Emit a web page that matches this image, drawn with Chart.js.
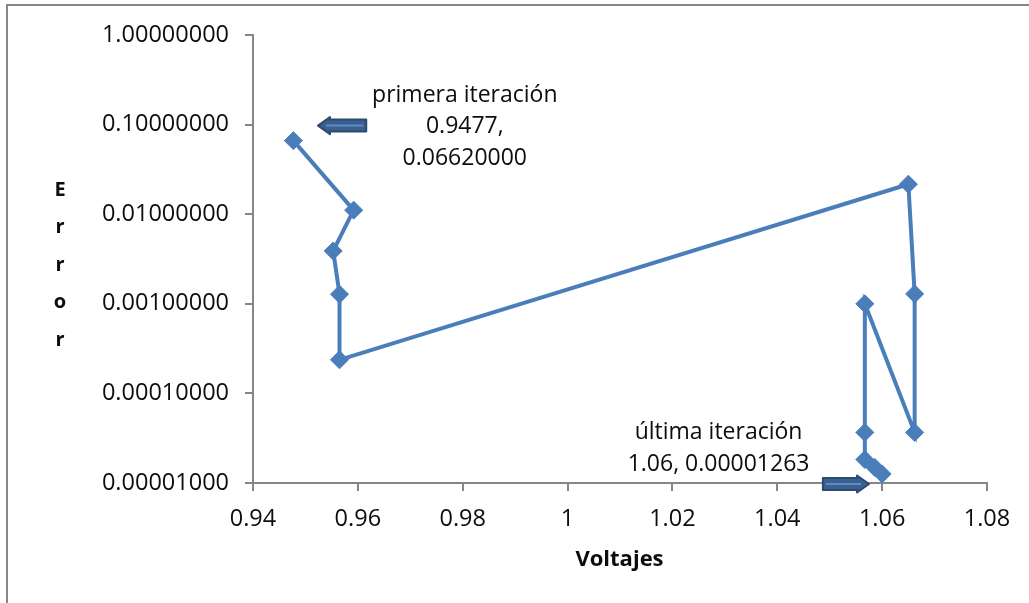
<!DOCTYPE html>
<html>
<head>
<meta charset="utf-8">
<script src="https://cdn.jsdelivr.net/npm/chart.js@4"></script>
<style>
  html, body { margin: 0; padding: 0; background: #fff; }
  #wrap { width: 1029px; height: 603px; position: relative; }
</style>
</head>
<body>
<div id="wrap"><canvas id="errorChart" width="1029" height="603"></canvas></div>
<script>
// datos (voltaje vs error por iteracion)
const voltajes = [0.9477, 0.9592, 0.9553, 0.9565, 0.9565, 1.0650, 1.0662, 1.0662, 1.0567, 1.0567, 1.0567, 1.0586, 1.0600];
const errores = [0.0662, 0.0111, 0.00389, 0.00128, 0.000237, 0.0216, 0.00129, 0.0000367, 0.00100, 0.0000367, 0.0000183, 0.0000149, 0.00001263];

// ticks de los ejes
const yTicks = [0.00001, 0.0001, 0.001, 0.01, 0.1, 1];
const xMin = 0.94, xMax = 1.08, xStep = 0.02;

const fontFam = '"Open Sans", sans-serif';
const axisGray = '#868686';
const lineBlue = '#4a7ebb';

// textos y flechas de anotacion (posicion en valores de datos)
const notas = [
    { x: 0.9804, y: 0.213, lines: ['primera iteración', '0.9477,', '0.06620000'] },
    { x: 1.0288, y: 0.0000365, lines: ['última iteración', '1.06, 0.00001263'] }
];
const flechas = [
    { from: 0.9616, to: 0.9524, y: 0.1 },   // apunta a la izquierda
    { from: 1.0487, to: 1.0575, y: 0.00001 } // apunta a la derecha
];

function drawArrow(ctx, x1, x2, y) {
    const dir = x2 > x1 ? 1 : -1;
    const shaft = 6, head = 8.5, headLen = 12;
    const hx = x2 - dir * headLen;
    ctx.save();
    ctx.beginPath();
    ctx.moveTo(x1, y - shaft);
    ctx.lineTo(hx, y - shaft);
    ctx.lineTo(hx, y - head);
    ctx.lineTo(x2, y);
    ctx.lineTo(hx, y + head);
    ctx.lineTo(hx, y + shaft);
    ctx.lineTo(x1, y + shaft);
    ctx.closePath();
    ctx.fillStyle = '#3b5f8f';
    ctx.fill();
    ctx.lineWidth = 2;
    ctx.lineJoin = 'round';
    ctx.strokeStyle = '#2d4a70';
    ctx.stroke();
    // brillo interior
    ctx.beginPath();
    ctx.moveTo(x1 + dir * 3, y);
    ctx.lineTo(hx + dir * 4, y);
    ctx.lineWidth = 2;
    ctx.strokeStyle = '#5d8cc8';
    ctx.stroke();
    ctx.restore();
}

const extrasPlugin = {
    id: 'extras',
    beforeDraw(chart) {
        const ctx = chart.ctx;
        ctx.save();
        ctx.fillStyle = '#fff';
        ctx.fillRect(0, 0, chart.width, chart.height);
        ctx.strokeStyle = axisGray;
        ctx.lineWidth = 2;
        ctx.strokeRect(7, 5, chart.width + 20, chart.height + 20);
        ctx.restore();
    },
    afterDraw(chart) {
        const ctx = chart.ctx;
        const xs = chart.scales.x, ys = chart.scales.y;
        ctx.save();
        ctx.fillStyle = '#0d0d0d';
        ctx.textAlign = 'center';
        ctx.textBaseline = 'middle';

        // titulo eje Y: letras apiladas
        ctx.font = 'bold 20px ' + fontFam;
        const letras = ['E', 'r', 'r', 'o', 'r'];
        letras.forEach((l, i) => ctx.fillText(l, 60, 190 + i * 37.5));

        // titulo eje X
        ctx.font = 'bold 22px ' + fontFam;
        ctx.fillText('Voltajes', (xs.left + xs.right) / 2 - 0.5, 560);

        // anotaciones
        ctx.font = '23px ' + fontFam;
        notas.forEach(n => {
            const px = xs.getPixelForValue(n.x);
            const py = ys.getPixelForValue(n.y);
            n.lines.forEach((t, i) => ctx.fillText(t, px, py + i * 31.5));
        });
        flechas.forEach(f => {
            drawArrow(ctx, xs.getPixelForValue(f.from), xs.getPixelForValue(f.to), ys.getPixelForValue(f.y) + 1);
        });
        ctx.restore();
    }
};

const ctx = document.getElementById('errorChart').getContext('2d');
new Chart(ctx, {
    type: 'scatter',
    data: {
        datasets: [{
            label: 'Error',
            data: voltajes.map((v, i) => ({ x: v, y: errores[i] })),
            showLine: true,
            borderColor: lineBlue,
            backgroundColor: lineBlue,
            borderWidth: 4,
            pointStyle: 'rectRot',
            pointRadius: 9,
            pointBorderWidth: 1,
            pointBorderColor: lineBlue,
            pointBackgroundColor: lineBlue,
            clip: false
        }]
    },
    options: {
        responsive: false,
        animation: false,
        layout: { padding: { top: 35, right: 42, left: 0, bottom: 0 } },
        plugins: {
            legend: { display: false },
            tooltip: { enabled: false }
        },
        scales: {
            x: {
                type: 'linear',
                min: xMin,
                max: xMax,
                afterFit(scale) { scale.height = 120; },
                ticks: {
                    stepSize: xStep,
                    padding: 14,
                    color: '#0d0d0d',
                    font: { family: fontFam, size: 23.5 },
                    callback: v => String(+v.toFixed(2))
                },
                border: { display: true, color: axisGray, width: 2 },
                grid: { drawOnChartArea: false, drawTicks: true, tickLength: 8, color: axisGray, lineWidth: 2 }
            },
            y: {
                type: 'logarithmic',
                min: 0.00001,
                max: 1,
                afterFit(scale) { scale.width = 253; },
                afterBuildTicks(scale) { scale.ticks = yTicks.map(v => ({ value: v })); },
                ticks: {
                    padding: 16,
                    color: '#0d0d0d',
                    font: { family: fontFam, size: 23.5 },
                    callback: v => Number(v).toFixed(8)
                },
                border: { display: true, color: axisGray, width: 2 },
                grid: { drawOnChartArea: false, drawTicks: true, tickLength: 8, color: axisGray, lineWidth: 2 }
            }
        }
    },
    plugins: [extrasPlugin]
});
</script>
</body>
</html>
